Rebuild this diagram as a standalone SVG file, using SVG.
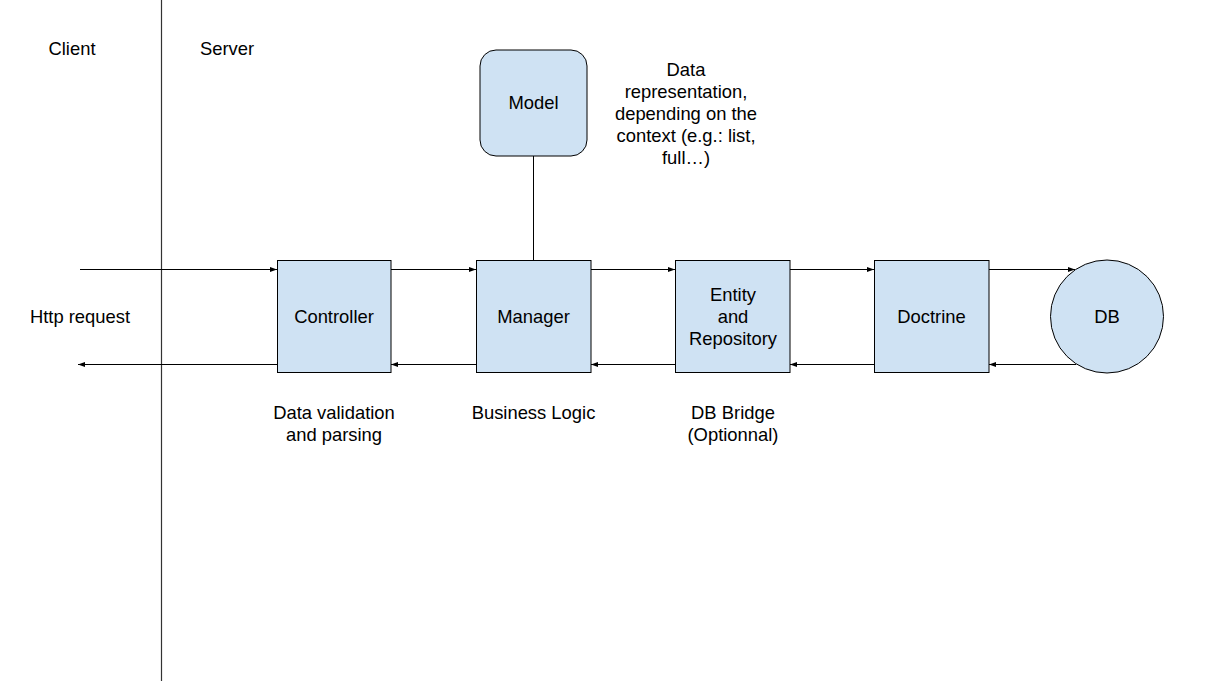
<svg xmlns="http://www.w3.org/2000/svg" width="1218" height="681" viewBox="0 0 1218 681">
<style>
.box{fill:#cfe2f3;stroke:#000;stroke-width:1}
.t{font-family:"Liberation Sans",Arial,sans-serif;font-size:18.4px;fill:#000;text-anchor:middle}
.c{stroke:#000;stroke-width:1;fill:none}
</style>
<defs>
<marker id="ah" viewBox="0 0 10 10" refX="10" refY="5" markerWidth="7" markerHeight="7" markerUnits="userSpaceOnUse" orient="auto">
<path d="M0,1.5 L10,5 L0,8.5 Z" fill="#000"/>
</marker>
</defs>
<rect width="1218" height="681" fill="#fff"/>
<line x1="161.5" y1="0" x2="161.5" y2="681" stroke="#333" stroke-width="1.2"/>
<text class="t" x="72" y="55">Client</text>
<text class="t" x="227" y="55">Server</text>
<text class="t" x="80" y="323">Http request</text>
<g id="connectors">
<line class="c" x1="80" y1="269.5" x2="277" y2="269.5" marker-end="url(#ah)"/>
<line class="c" x1="277" y1="364.5" x2="78" y2="364.5" marker-end="url(#ah)"/>
<line class="c" x1="391" y1="269.5" x2="476" y2="269.5" marker-end="url(#ah)"/>
<line class="c" x1="476" y1="364.5" x2="391" y2="364.5" marker-end="url(#ah)"/>
<line class="c" x1="591" y1="269.5" x2="675" y2="269.5" marker-end="url(#ah)"/>
<line class="c" x1="675" y1="364.5" x2="591" y2="364.5" marker-end="url(#ah)"/>
<line class="c" x1="790" y1="269.5" x2="874" y2="269.5" marker-end="url(#ah)"/>
<line class="c" x1="874" y1="364.5" x2="790" y2="364.5" marker-end="url(#ah)"/>
<line class="c" x1="989" y1="269.5" x2="1075" y2="269.5" marker-end="url(#ah)"/>
<line class="c" x1="1076" y1="364.5" x2="989" y2="364.5" marker-end="url(#ah)"/>
<line class="c" x1="533.5" y1="156" x2="533.5" y2="260"/>
</g>
<g id="model">
<rect class="box" x="480" y="50" width="107" height="106" rx="16"/>
<text class="t" x="533.5" y="109">Model</text>
</g>
<g id="controller">
<rect class="box" x="277.5" y="260.5" width="113.5" height="112"/>
<text class="t" x="334" y="323">Controller</text>
</g>
<g id="manager">
<rect class="box" x="476.5" y="260.5" width="114.5" height="112"/>
<text class="t" x="533.5" y="323">Manager</text>
</g>
<g id="entity">
<rect class="box" x="675.5" y="260.5" width="114.5" height="112"/>
<text class="t" x="733" y="301">Entity</text>
<text class="t" x="733" y="323">and</text>
<text class="t" x="733" y="345">Repository</text>
</g>
<g id="doctrine">
<rect class="box" x="874.5" y="260.5" width="114.5" height="112"/>
<text class="t" x="931.5" y="323">Doctrine</text>
</g>
<g id="db">
<circle class="box" cx="1107" cy="316.5" r="56.5"/>
<text class="t" x="1107" y="323">DB</text>
</g>
<g id="labels">
<text class="t" x="334" y="419">Data validation</text>
<text class="t" x="334" y="441">and parsing</text>
<text class="t" x="533.5" y="419">Business Logic</text>
<text class="t" x="733" y="419">DB Bridge</text>
<text class="t" x="733" y="441">(Optionnal)</text>
<text class="t" x="686" y="76">Data</text>
<text class="t" x="686" y="98">representation,</text>
<text class="t" x="686" y="120">depending on the</text>
<text class="t" x="686" y="142">context (e.g.: list,</text>
<text class="t" x="686" y="164">full…)</text>
</g>
</svg>
